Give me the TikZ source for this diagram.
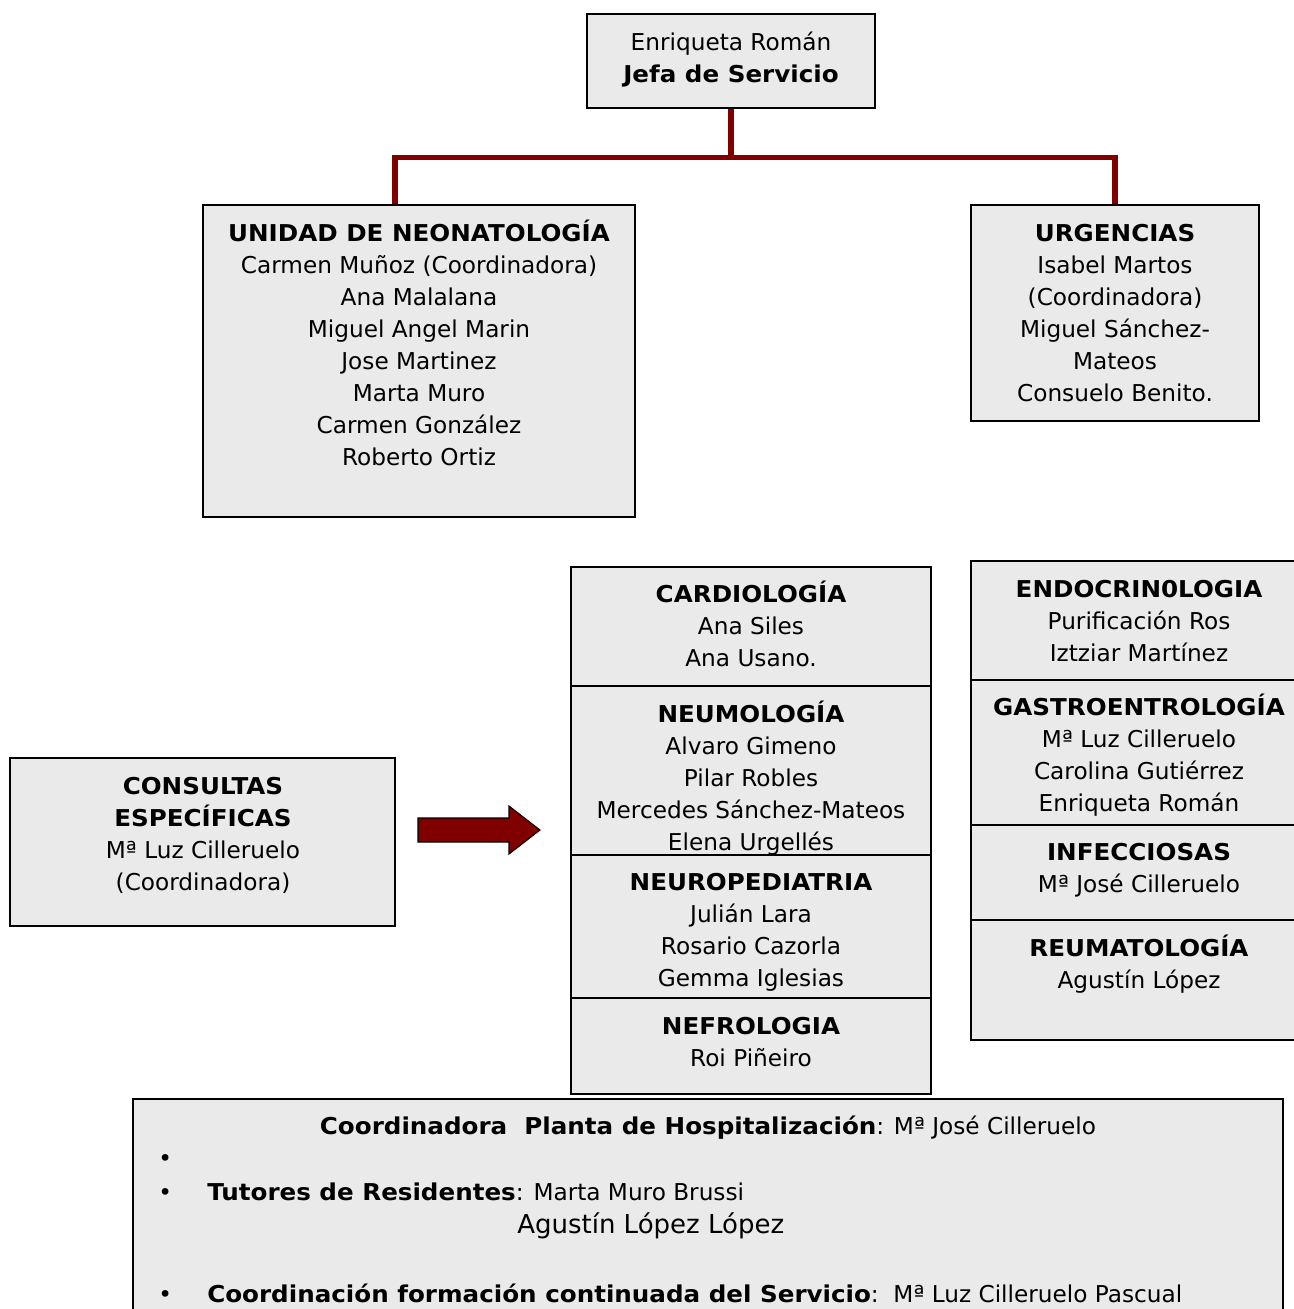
\documentclass[tikz,border=0pt]{standalone}
\usepackage{fontspec}
\setmainfont{DejaVu Sans}[BoldFeatures={FakeStretch=1.06}]
\usetikzlibrary{fit}

\definecolor{boxgray}{RGB}{234,234,234}
\definecolor{linkred}{RGB}{128,0,0}
\newcommand{\orgfont}{\fontsize{17.4}{24}\selectfont}

\tikzset{
  box/.style={draw=black, line width=1.4pt, fill=boxgray, inner sep=0pt},
  boxtext/.style={anchor=north, align=center, inner sep=0pt, font=\orgfont},
  rowtext/.style={anchor=base west, inner sep=0pt, font=\orgfont},
  link/.style={draw=linkred, line width=3.8pt},
}

\begin{document}
\begin{tikzpicture}[x=0.75pt, y=-0.75pt]
\clip (0,0) rectangle (1294,1309);
% Head of the service
\node[box, fit={(587,14) (875,108)}] (jefa) {};
\node[boxtext] (jefatext) at (731,28) {\strut Enriqueta Román\\\textbf{Jefa de Servicio}};
% Units below
\node[box, fit={(203,205) (635,517)}] (neo) {};
\node[boxtext] (neotext) at (419,219) {\strut\textbf{UNIDAD DE NEONATOLOGÍA}\\Carmen Muñoz (Coordinadora)\\Ana Malalana\\Miguel Angel Marin\\Jose Martinez\\Marta Muro\\Carmen González\\Roberto Ortiz};
\node[box, fit={(971,205) (1259,421)}] (urg) {};
\node[boxtext] (urgtext) at (1115,219) {\strut\textbf{URGENCIAS}\\Isabel Martos\\(Coordinadora)\\Miguel Sánchez-\\Mateos\\Consuelo Benito.};
% Connectors
\draw[link] (jefa.south) -- ++(0,49) coordinate (split) -| ([xshift=-18pt]neo.north);
\draw[link] (split) -| (urg.north);
% Consultas
\node[box, fit={(10,758) (395,926)}] (cons) {};
\node[boxtext] (constext) at (203,772) {\strut\textbf{CONSULTAS}\\\textbf{ESPECÍFICAS}\\Mª Luz Cilleruelo\\(Coordinadora)};
\draw[fill=linkred, draw=black, line width=0.8pt] (418,818) -- (509,818) -- (509,806) -- (540,830) -- (509,854) -- (509,842) -- (418,842) -- cycle;
% Middle column
\node[box, fit={(571,567) (931,686)}] (cardio) {};
\node[boxtext] (cardiotext) at (751,580) {\strut\textbf{CARDIOLOGÍA}\\Ana Siles\\Ana Usano.};
\node[box, fit={(571,686) (931,855)}] (neumo) {};
\node[boxtext] (neumotext) at (751,700) {\strut\textbf{NEUMOLOGÍA}\\Alvaro Gimeno\\Pilar Robles\\Mercedes Sánchez-Mateos\\Elena Urgellés};
\node[box, fit={(571,855) (931,998)}] (neuro) {};
\node[boxtext] (neurotext) at (751,868) {\strut\textbf{NEUROPEDIATRIA}\\Julián Lara\\Rosario Cazorla\\Gemma Iglesias};
\node[box, fit={(571,998) (931,1094)}] (nefro) {};
\node[boxtext] (nefrotext) at (751,1012) {\strut\textbf{NEFROLOGIA}\\Roi Piñeiro};
% Right column
\node[box, fit={(971,561) (1307,680)}] (endo) {};
\node[boxtext] (endotext) at (1139,575) {\strut\textbf{ENDOCRIN0LOGIA}\\Purificación Ros\\Iztziar Martínez};
\node[box, fit={(971,680) (1307,825)}] (gastro) {};
\node[boxtext] (gastrotext) at (1139,693) {\strut\textbf{GASTROENTROLOGÍA}\\Mª Luz Cilleruelo\\Carolina Gutiérrez\\Enriqueta Román};
\node[box, fit={(971,825) (1307,920)}] (infec) {};
\node[boxtext] (infectext) at (1139,838) {\strut\textbf{INFECCIOSAS}\\Mª José Cilleruelo};
\node[box, fit={(971,920) (1307,1040)}] (reuma) {};
\node[boxtext] (reumatext) at (1139,934) {\strut\textbf{REUMATOLOGÍA}\\Agustín López};
% Bottom box
\node[box, fit={(133,1099) (1283,1340)}] (planta) {};
\node[anchor=base, inner sep=0pt, font=\orgfont] (plantatext) at (708,1134) {\textbf{Coordinadora\ \ Planta de Hospitalización}: Mª José Cilleruelo};
\node[rowtext] (bul1) at (158,1166) {•};
\node[rowtext] (bul2) at (158,1200) {•};
\node[rowtext] (tutores) at (207,1200) {\textbf{Tutores de Residentes}: Marta Muro Brussi};
\node[anchor=base west, inner sep=0pt, font=\fontsize{19.5}{24}\selectfont] (agustin) at (517,1233) {Agustín López López};
\node[rowtext] (bul3) at (158,1302) {•};
\node[rowtext] (formacion) at (207,1302) {\textbf{Coordinación formación continuada del Servicio}:\ \ Mª Luz Cilleruelo Pascual};
\end{tikzpicture}
\end{document}
